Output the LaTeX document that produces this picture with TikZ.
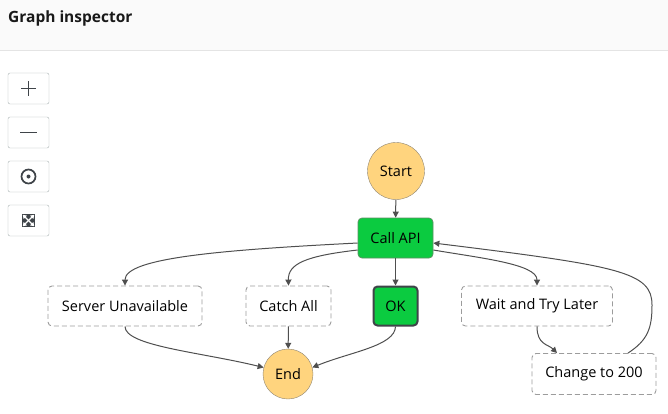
\documentclass[tikz,border=0pt]{standalone}
\usepackage{fontspec}
\setmainfont{Open Sans}
\usetikzlibrary{arrows.meta, positioning}
\definecolor{headergray}{HTML}{FAFAFA}
\definecolor{rulegray}{HTML}{E4E4E4}
\definecolor{edgegray}{HTML}{4F4F4F}
\definecolor{dashgray}{HTML}{9C9C9C}
\definecolor{btngray}{HTML}{A9B2B2}
\definecolor{icongray}{HTML}{3F4449}
\definecolor{stategreen}{HTML}{0BCB40}
\definecolor{callborder}{HTML}{5E8E63}
\definecolor{endyellow}{HTML}{FFD47E}
\definecolor{endborder}{HTML}{8E8574}

\begin{document}
\begin{tikzpicture}[x=1pt, y=-1pt,
    txt/.style={font=\fontsize{14.5}{17}\selectfont, text=black},
    task/.style={txt, rectangle, rounded corners=4pt, fill=white, draw=dashgray, line width=0.9pt, dash pattern=on 5pt off 3pt, minimum height=40pt, inner sep=0pt},
    pass/.style={txt, rectangle, rounded corners=4pt, fill=stategreen, minimum height=40pt, inner sep=0pt},
    terminal/.style={txt, circle, fill=endyellow, draw=endborder, inner sep=0pt},
    button/.style={rectangle, rounded corners=2pt, fill=white, draw=btngray, minimum width=41pt, minimum height=31pt},
    arrow/.style={-{Triangle[length=6pt, width=6pt]}, edgegray, line width=1pt}
]
    \useasboundingbox (0,0) rectangle (668,413);

    % Header
    \fill[headergray] (0,0) rectangle (668,50);
    \draw[rulegray, line width=1pt] (0,50) -- (668,50);
    \node[anchor=west, inner sep=0pt, font=\fontsize{15.5}{19}\bfseries\selectfont, text=black!90] (title) at (8,18) {Graph inspector};

    % Zoom buttons
    \node[button] (zoomin) at (28.5,88.5) {};
    \node[button] (zoomout) at (28.5,132.5) {};
    \node[button] (center) at (28.5,176.5) {};
    \node[button] (fit) at (28.5,220.5) {};
    \draw[icongray, line width=1.8pt] (21,88.5) -- (36,88.5) (28.5,81) -- (28.5,96);
    \draw[icongray, line width=1.8pt] (20,132.5) -- (37,132.5);
    \draw[icongray, line width=1.7pt] (center.center) circle (7pt);
    \fill[icongray] (center.center) circle (2pt);
    \fill[icongray] (22,214) rectangle (35,227);
    \draw[white, line width=1.2pt, {Triangle[length=3.5pt, width=4.5pt]}-{Triangle[length=3.5pt, width=4.5pt]}] (22.8,214.8) -- (34.2,226.2);
    \draw[white, line width=1.2pt, {Triangle[length=3.5pt, width=4.5pt]}-{Triangle[length=3.5pt, width=4.5pt]}] (34.2,214.8) -- (22.8,226.2);

    % States
    \node[terminal, minimum size=57pt] (start) at (396,171) {Start};
    \node[pass, draw=callborder, line width=0.7pt, minimum width=75pt] (call) at (395.5,238) {Call API};
    \node[task, minimum width=154pt] (unavail) at (125,306) {Server Unavailable};
    \node[task, minimum width=85pt] (catch) at (288.5,306) {Catch All};
    \node[pass, draw=icongray, line width=2pt, minimum width=44pt, minimum height=39pt] (ok) at (395.5,306) {OK};
    \node[task, minimum width=151pt] (wait) at (537,306) {Wait and Try Later};
    \node[task, minimum width=124pt, minimum height=41pt] (change) at (594,374) {Change to 200};
    \node[terminal, minimum size=50pt] (end) at (288,374) {End};

    % Transitions
    \draw[arrow] (start) -- (call);
    \draw[arrow] (call) -- (ok);
    \draw[arrow] (catch) -- (end);
    \draw[arrow] ([yshift=-5pt]call.west) .. controls (220,250) and (125,258) .. (unavail.north);
    \draw[arrow] ([yshift=-12pt]call.west) .. controls (305,256) and (288,264) .. (catch.north);
    \draw[arrow] ([yshift=-12pt]call.east) .. controls (480,258) and (537,264) .. (wait.north);
    \draw[arrow] (wait.south) .. controls (537,345) and (548,344) .. ([xshift=-37pt]change.north);
    \draw[arrow] ([xshift=34pt]change.north) .. controls (648,340) and (652,328) .. (652,305)
        .. controls (652,272) and (620,266) .. ([yshift=-5pt]call.east);
    \draw[arrow] (unavail.south) .. controls (125,346) and (200,352) .. (end.165);
    \draw[arrow] (ok.south) .. controls (395,346) and (350,352) .. (end.15);
\end{tikzpicture}
\end{document}
